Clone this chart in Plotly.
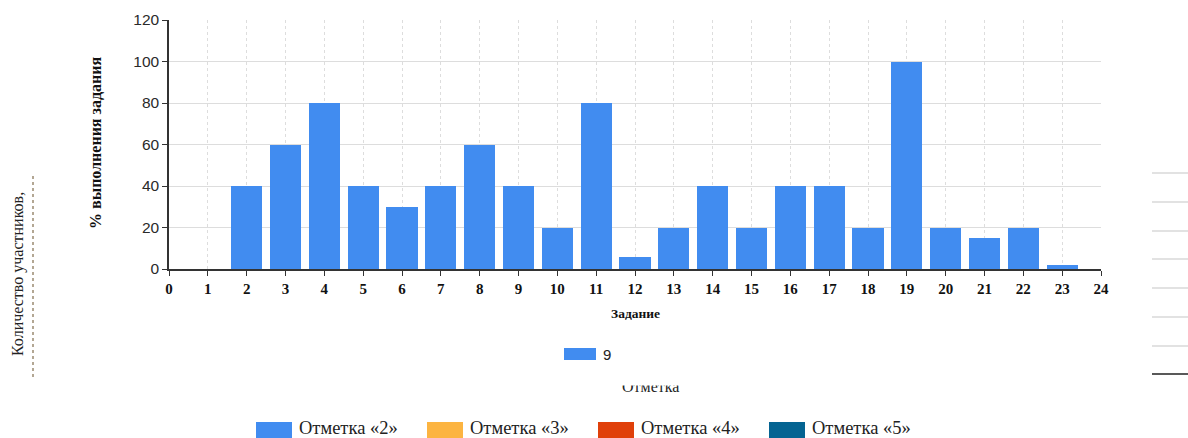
import plotly.graph_objects as go

W, H = 1188, 438

# ---- data ----
tasks = [2, 3, 4, 5, 6, 7, 8, 9, 10, 11, 12, 13, 14, 15, 16, 17, 18, 19, 20, 21, 22, 23]
percent = [40, 60, 80, 40, 30, 40, 60, 40, 20, 80, 6, 20, 40, 20, 40, 40, 20, 100, 20, 15, 20, 2]
series_name = "9"
x_ticks = list(range(0, 25))
y_ticks = [0, 20, 40, 60, 80, 100, 120]
grade_names = ["Отметка «2»", "Отметка «3»", "Отметка «4»", "Отметка «5»"]
grade_colors = ["#418CF0", "#FCB441", "#E0400A", "#056492"]
bar_color = "#418CF0"

# ---- layout helpers (pixel -> paper) ----
def px(x):
    return x / W

def py(y):
    return 1 - y / H

L, R, T, B = 169, 1101, 20, 269

fig = go.Figure()
fig.add_trace(go.Bar(
    x=tasks, y=percent, width=0.8, name=series_name,
    marker=dict(color=bar_color, line=dict(width=0)),
    showlegend=False,
))

serif = "Liberation Serif, Times New Roman, serif"
sans = "Liberation Sans, Arial, sans-serif"

fig.update_layout(
    width=W, height=H,
    margin=dict(l=0, r=0, t=0, b=0, autoexpand=False),
    paper_bgcolor="white", plot_bgcolor="white",
    bargap=0, showlegend=False,
    xaxis=dict(
        domain=[px(L), px(R)], range=[0, 24], tickmode="array", tickvals=x_ticks,
        ticktext=[str(v) for v in x_ticks], automargin=False,
        showgrid=True, gridcolor="#DDDDDD", griddash="dot", gridwidth=1,
        showline=True, linecolor="#333333", linewidth=1.5,
        ticks="outside", ticklen=5, tickcolor="#333333", tickwidth=1,
        tickfont=dict(family=serif, size=15, color="#111111", weight="bold"),
        zeroline=False, fixedrange=True,
    ),
    yaxis=dict(
        domain=[py(B), py(T)], range=[0, 120], tickmode="array", tickvals=y_ticks,
        automargin=False,
        showgrid=True, gridcolor="#DDDDDD", gridwidth=1,
        showline=True, linecolor="#333333", linewidth=1.5,
        ticks="outside", ticklen=5, tickcolor="#333333", tickwidth=1,
        tickfont=dict(family=sans, size=15.5, color="#2a2a2a"),
        zeroline=False, fixedrange=True,
    ),
)

def label(text, x, y, size, family, color="#222222", angle=0, xanchor="center"):
    return dict(text=text, x=px(x), y=py(y), xref="paper", yref="paper",
                xanchor=xanchor, yanchor="middle", textangle=angle, showarrow=False,
                font=dict(family=family, size=size, color=color))

ann = []
# axis titles
ann.append(label("<b>% выполнения задания</b>", 95, 143, 16, serif, "#111111", angle=-90))
ann.append(label("<b>Задание</b>", 635, 313, 13.5, serif, "#111111"))
# series legend (manual)
fig.add_shape(type="rect", xref="paper", yref="paper", x0=px(564), x1=px(596), y0=py(360), y1=py(348),
              fillcolor=bar_color, line=dict(width=0))
ann.append(label(series_name, 601, 354, 15, sans, xanchor="left"))
# left rotated text (partially clipped neighbour chart)
ann.append(label("Количество участников,", 18, 274, 16, serif, angle=-90))
fig.add_shape(type="line", xref="paper", yref="paper", x0=px(33), x1=px(33), y0=py(176), y1=py(378),
              line=dict(color="#9a8a72", width=1.5, dash="dot"))
# clipped "Отметка" label
ann.append(label("Отметка", 650, 386, 16, serif))
ann.append(dict(text=" ", x=px(650), y=py(377), xref="paper", yref="paper", xanchor="center",
                yanchor="middle", width=120, height=14, bgcolor="white", showarrow=False,
                font=dict(size=8)))
# bottom grade legend
sw_x = [256, 427, 598, 769]
for name, col, x0 in zip(grade_names, grade_colors, sw_x):
    fig.add_shape(type="rect", xref="paper", yref="paper", x0=px(x0), x1=px(x0 + 36), y0=py(438), y1=py(422),
                  fillcolor=col, line=dict(width=0))
    ann.append(label(name, x0 + 41, 428, 18.5, serif, xanchor="left"))
# right-side clipped neighbour gridlines
for yy in [173, 202, 231, 259, 288, 317, 346]:
    fig.add_shape(type="line", xref="paper", yref="paper", x0=px(1152), x1=1, y0=py(yy), y1=py(yy),
                  line=dict(color="#D9D9D9", width=1.5))
fig.add_shape(type="line", xref="paper", yref="paper", x0=px(1152), x1=1, y0=py(374), y1=py(374),
              line=dict(color="#222222", width=1.5))

fig.update_layout(annotations=ann)
fig.write_html("out.html", config={"displayModeBar": False},
               post_script="document.body.style.margin='0';document.body.style.padding='0';")
